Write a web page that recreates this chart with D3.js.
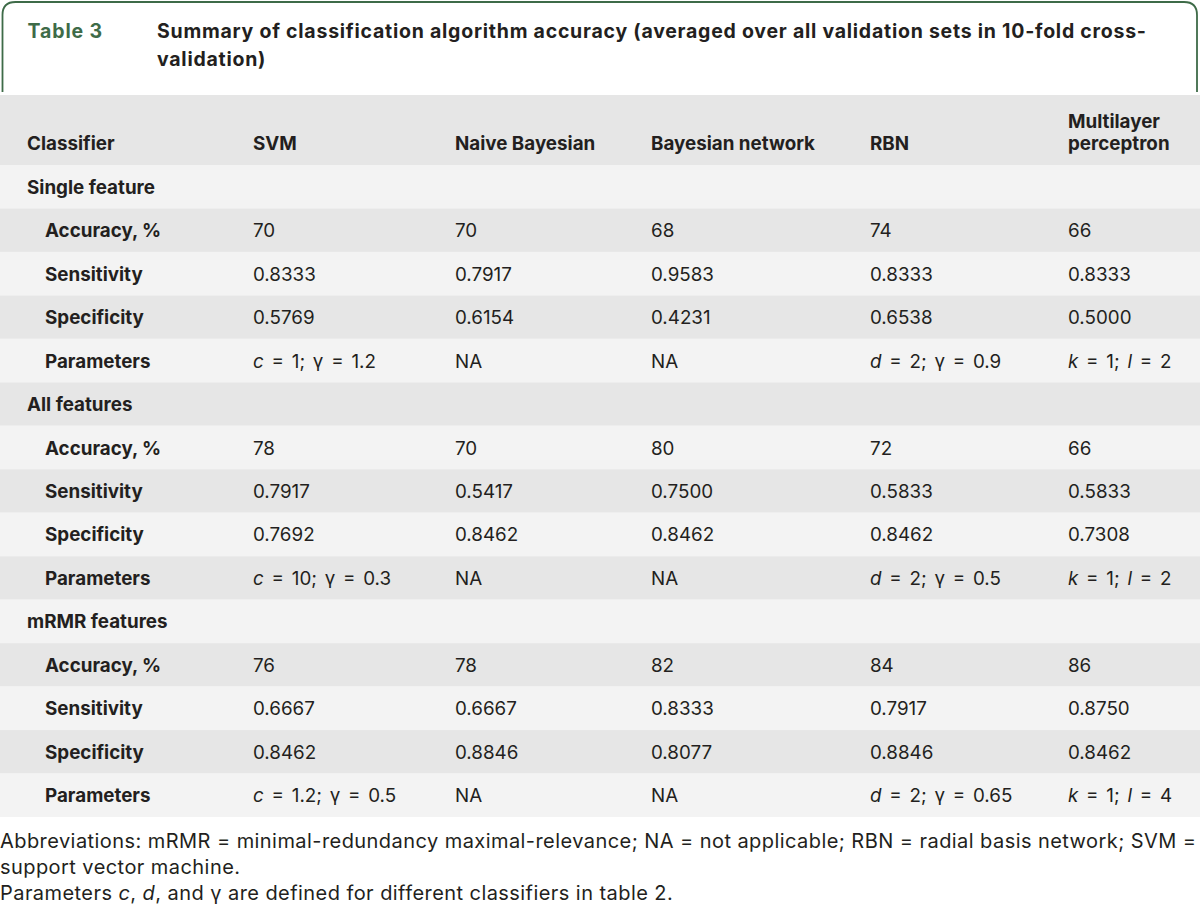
<!DOCTYPE html>
<html>
<head>
<meta charset="utf-8">
<script src="https://cdn.jsdelivr.net/npm/d3@7"></script>
<style>
  html, body { margin: 0; padding: 0; background: #ffffff; }
  svg { display: block; }
  text { font-family: Inter, "Liberation Sans", Arial, sans-serif; fill: #231f20; }
</style>
</head>
<body>
<svg id="chart" width="1200" height="918"></svg>
<script>
// ---------- data ----------
const tableLabel = "Table 3";
const titleLines = [
  "Summary of classification algorithm accuracy (averaged over all validation sets in 10-fold cross-",
  "validation)"
];
const headerLabel = "Classifier";
const classifiers = ["SVM", "Naive Bayesian", "Bayesian network", "RBN", "Multilayer perceptron"];
const sections = ["Single feature", "All features", "mRMR features"];
const metrics = ["Accuracy, %", "Sensitivity", "Specificity", "Parameters"];
const accuracy = [
  ["70", "70", "68", "74", "66"],
  ["78", "70", "80", "72", "66"],
  ["76", "78", "82", "84", "86"]
];
const sensitivity = [
  ["0.8333", "0.7917", "0.9583", "0.8333", "0.8333"],
  ["0.7917", "0.5417", "0.7500", "0.5833", "0.5833"],
  ["0.6667", "0.6667", "0.8333", "0.7917", "0.8750"]
];
const specificity = [
  ["0.5769", "0.6154", "0.4231", "0.6538", "0.5000"],
  ["0.7692", "0.8462", "0.8462", "0.8462", "0.7308"],
  ["0.8462", "0.8846", "0.8077", "0.8846", "0.8462"]
];
// *x* marks italic parts
const parameters = [
  ["*c* = 1; γ = 1.2", "NA", "NA", "*d* = 2; γ = 0.9", "*k* = 1; *l* = 2"],
  ["*c* = 10; γ = 0.3", "NA", "NA", "*d* = 2; γ = 0.5", "*k* = 1; *l* = 2"],
  ["*c* = 1.2; γ = 0.5", "NA", "NA", "*d* = 2; γ = 0.65", "*k* = 1; *l* = 4"]
];
const footnotes = [
  "Abbreviations: mRMR = minimal-redundancy maximal-relevance; NA = not applicable; RBN = radial basis network; SVM =",
  "support vector machine.",
  "Parameters *c*, *d*, and γ are defined for different classifiers in table 2."
];

// ---------- build rows ----------
const rows = [];
sections.forEach((s, si) => {
  rows.push({ label: s, type: "section", cells: null });
  const vals = [accuracy[si], sensitivity[si], specificity[si], parameters[si]];
  metrics.forEach((m, mi) => rows.push({ label: m, type: mi === 3 ? "param" : "metric", cells: vals[mi] }));
});

// ---------- layout ----------
const W = 1200;
const svg = d3.select("#chart");
const green = "#3e6b48";
const greyDark = "#e6e6e6";
const greyLight = "#f3f3f3";
const cellSize = 18.8;

const y = d3.scaleBand().domain(d3.range(rows.length)).range([165, 817]).paddingInner(0);
const colX = d3.scaleOrdinal().domain(classifiers).range([253, 455, 651, 870, 1068]);

function richText(sel, str) {
  const parts = str.split("*");
  parts.forEach((p, i) => {
    if (!p) return;
    sel.append("tspan").attr("font-style", i % 2 === 1 ? "italic" : "normal").text(p);
  });
}
// letter-spacing so that a text node spans a target width
function fitSpacing(node, targetWidth) {
  const n = node.getNumberOfChars();
  const w = node.getComputedTextLength();
  return Math.max(0, (targetWidth - w) / Math.max(1, n - 1));
}

// title box border (open at bottom)
const r = 13;
svg.append("path")
  .attr("d", `M2.5,92 L2.5,${2 + r} Q2.5,2 ${2.5 + r},2 L${W - 3 - r},2 Q${W - 3},2 ${W - 3},${2 + r} L${W - 3},92`)
  .attr("fill", "none").attr("stroke", green).attr("stroke-width", 1.8);

svg.append("text").attr("x", 27.5).attr("y", 37.5)
  .attr("font-size", 19.5).attr("font-weight", "bold").attr("letter-spacing", 0.9).style("fill", green)
  .text(tableLabel);

const titles = svg.selectAll("text.title").data(titleLines).join("text").attr("class", "title")
  .attr("x", 157).attr("y", (d, i) => 37.5 + i * 28.5)
  .attr("font-size", 19.5).attr("font-weight", "bold")
  .text(d => d);
const tSp = fitSpacing(titles.nodes()[0], 1146 - 157);
titles.attr("letter-spacing", tSp);

// header band
svg.append("rect").attr("x", 0).attr("y", 95).attr("width", W).attr("height", 70).attr("fill", greyDark);
svg.append("text").attr("x", 27).attr("y", 150).attr("font-size", cellSize).attr("font-weight", "bold").text(headerLabel);
classifiers.forEach(c => {
  const words = c === "Multilayer perceptron" ? ["Multilayer", "perceptron"] : [c];
  words.forEach((w, i) => {
    svg.append("text").attr("x", colX(c)).attr("y", 150 - (words.length - 1 - i) * 22)
      .attr("font-size", cellSize).attr("font-weight", "bold").text(w);
  });
});

// rows
const g = svg.selectAll("g.row").data(rows).join("g").attr("class", "row")
  .attr("transform", (d, i) => `translate(0,${y(i)})`);
g.append("rect").attr("x", 0).attr("y", 0).attr("width", W).attr("height", y.bandwidth())
  .attr("fill", (d, i) => i % 2 === 0 ? greyLight : greyDark);
g.append("text")
  .attr("x", d => d.type === "section" ? 27 : 45)
  .attr("y", y.bandwidth() / 2 + 7)
  .attr("font-size", cellSize).attr("font-weight", "bold")
  .text(d => d.label);
g.each(function(d) {
  if (!d.cells) return;
  const row = d3.select(this);
  d.cells.forEach((v, ci) => {
    const t = row.append("text").attr("x", colX(classifiers[ci])).attr("y", y.bandwidth() / 2 + 7)
      .attr("font-size", cellSize)
      .attr("word-spacing", d.type === "param" ? 2.5 : 0);
    richText(t, v);
  });
});

// footnotes
const fnodes = footnotes.map((f, i) => {
  const t = svg.append("text").attr("x", 0).attr("y", 848 + i * 26).attr("font-size", 20);
  richText(t, f);
  return t;
});
const fSp = fitSpacing(fnodes[0].node(), 1196);
fnodes.forEach(t => t.attr("letter-spacing", fSp));
</script>
</body>
</html>
